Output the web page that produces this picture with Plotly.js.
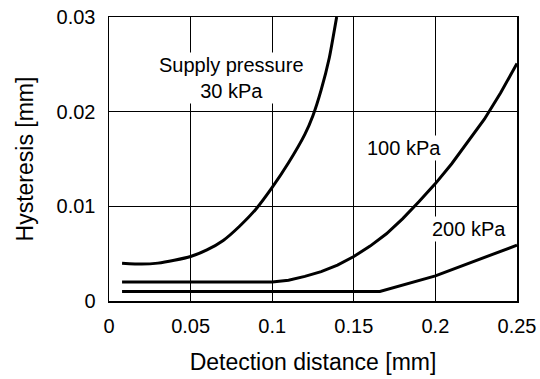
<!DOCTYPE html>
<html>
<head>
<meta charset="utf-8">
<script src="https://cdn.plot.ly/plotly-3.0.1.min.js"></script>
<style>html,body{margin:0;padding:0;background:#fff;}#chart{width:540px;height:379px;}</style>
</head>
<body>
<div id="chart"></div>
<script>
// Data
const x30 = [0.008, 0.02, 0.03, 0.04, 0.05, 0.06, 0.07, 0.08, 0.09, 0.1, 0.11, 0.12, 0.125, 0.13, 0.135, 0.1395];
const y30 = [0.0040, 0.0039, 0.0040, 0.0043, 0.0047, 0.0054, 0.0064, 0.0079, 0.0097, 0.0120, 0.0146, 0.0176, 0.0196, 0.0223, 0.0257, 0.0300];
const x100 = [0.008, 0.05, 0.1, 0.11, 0.12, 0.13, 0.14, 0.15, 0.16, 0.17, 0.18, 0.19, 0.2, 0.21, 0.22, 0.23, 0.24, 0.25];
const y100 = [0.002, 0.002, 0.002, 0.0022, 0.0026, 0.0031, 0.0038, 0.0047, 0.0058, 0.0071, 0.0087, 0.0105, 0.0124, 0.0145, 0.0168, 0.0192, 0.0220, 0.0251];
const x200 = [0.008, 0.1, 0.166, 0.2, 0.2234, 0.25];
const y200 = [0.001, 0.001, 0.001, 0.00265, 0.0042, 0.0059];
const labels = [
  {text: 'Supply pressure<br>30 kPa', x: 0.0753, y: 0.0236},
  {text: '100 kPa', x: 0.1808, y: 0.0162},
  {text: '200 kPa', x: 0.2208, y: 0.0076}
];
const xTicks = [0, 0.05, 0.1, 0.15, 0.2, 0.25];
const xTickText = ['0', '0.05', '0.1', '0.15', '0.2', '0.25'];
const yTicks = [0, 0.01, 0.02, 0.03];
const yTickText = ['0', '0.01', '0.02', '0.03'];

const lineStyle = {color: '#000', width: 3, shape: 'spline', smoothing: 0.5};
const traces = [
  {x: x30, y: y30, mode: 'lines', line: lineStyle, hoverinfo: 'skip'},
  {x: x100, y: y100, mode: 'lines', line: {color: '#000', width: 3}, hoverinfo: 'skip'},
  {x: x200, y: y200, mode: 'lines', line: {color: '#000', width: 3}, hoverinfo: 'skip'}
];
const fam = 'Liberation Sans, Arial, sans-serif';
const layout = {
  width: 540, height: 379,
  margin: {l: 109, r: 23, t: 17, b: 78},
  paper_bgcolor: '#fff', plot_bgcolor: '#fff',
  showlegend: false,
  font: {family: fam, size: 20, color: '#000'},
  xaxis: {
    range: [0, 0.25], tickvals: xTicks, ticktext: xTickText,
    tickfont: {family: fam, size: 20, color: '#000'},
    showgrid: true, gridcolor: '#000', gridwidth: 1,
    showline: true, linecolor: '#000', linewidth: 1.5, mirror: true,
    zeroline: false, ticks: '', ticklabelstandoff: 6,
    title: {text: 'Detection distance [mm]', font: {family: fam, size: 23, color: '#000'}, standoff: 18}
  },
  yaxis: {
    range: [0, 0.03], tickvals: yTicks, ticktext: yTickText,
    tickfont: {family: fam, size: 20, color: '#000'},
    showgrid: true, gridcolor: '#000', gridwidth: 1,
    showline: true, linecolor: '#000', linewidth: 1.5, mirror: true,
    zeroline: false, ticks: '', ticklabelstandoff: 8,
    title: {text: 'Hysteresis [mm]', font: {family: fam, size: 23, color: '#000'}, standoff: 16}
  },
  annotations: labels.map(l => ({
    text: l.text, x: l.x, y: l.y, xref: 'x', yref: 'y',
    showarrow: false, bgcolor: '#fff', borderpad: 1,
    font: {family: fam, size: 20, color: '#000'}
  }))
};
Plotly.newPlot('chart', traces, layout, {staticPlot: true, displayModeBar: false});
</script>
</body>
</html>
